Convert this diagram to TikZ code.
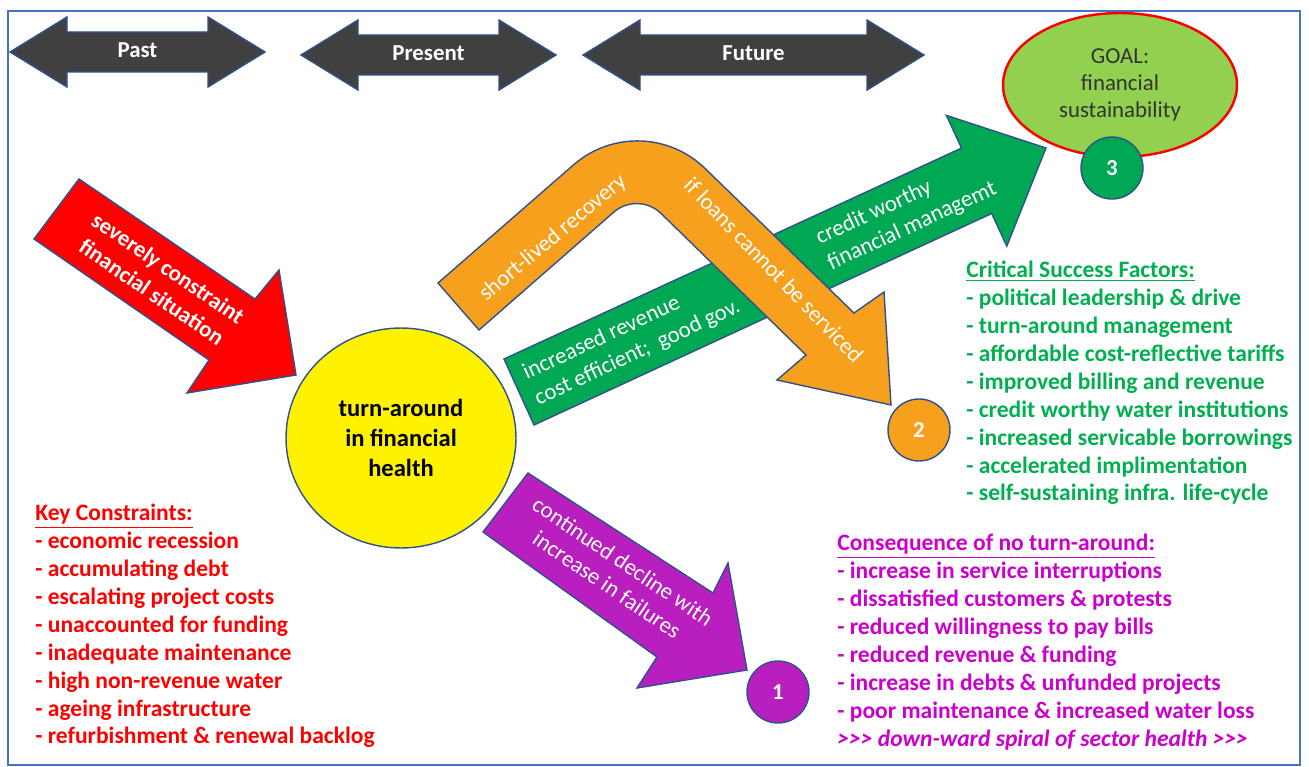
\documentclass[tikz,border=0pt]{standalone}
\usepackage{fontspec}
\setmainfont{Carlito}
\usetikzlibrary{shapes.geometric}

\definecolor{outline}{RGB}{47,82,143}
\definecolor{framecol}{RGB}{68,114,196}
\definecolor{timegray}{RGB}{64,64,64}
\definecolor{redarrow}{RGB}{255,0,0}
\definecolor{orangearrow}{RGB}{247,160,30}
\definecolor{greenarrow}{RGB}{0,168,84}
\definecolor{purplearrow}{RGB}{185,30,190}
\definecolor{goalgreen}{RGB}{146,208,80}
\definecolor{csfgreen}{RGB}{0,176,80}
\definecolor{conspurple}{RGB}{204,0,204}

\tikzset{
  frame/.style={
    draw=framecol,
    line width=1.1pt
  },
  fat/.style={
    draw=outline,
    line width=0.8pt,
    line join=miter
  },
  timebar/.style={
    fat,
    fill=timegray
  },
  timelabel/.style={
    text=white,
    inner sep=0pt,
    font=\bfseries\fontsize{13}{15}\selectfont
  },
  arrowtext/.style={
    text=white,
    inner sep=0pt,
    align=center,
    font=\fontsize{13}{16}\selectfont
  },
  hub/.style={
    ellipse,
    draw=outline,
    line width=0.8pt,
    fill=yellow,
    minimum width=4.6cm,
    minimum height=4.4cm,
    align=center,
    font=\bfseries\fontsize{14}{17}\selectfont
  },
  goal/.style={
    ellipse,
    draw=red,
    line width=1.4pt,
    fill=goalgreen,
    minimum width=4.68cm,
    minimum height=2.88cm,
    align=center,
    text=black!80,
    font=\fontsize{13}{15.3}\selectfont
  },
  num/.style={
    circle,
    draw=outline,
    line width=0.8pt,
    minimum size=1.24cm,
    inner sep=0pt,
    text=white,
    font=\bfseries\fontsize{13}{15}\selectfont
  },
  listtext/.style={
    align=left,
    anchor=north west,
    inner sep=0pt,
    font=\bfseries\fontsize{13.4}{15.87}\selectfont
  }
}

\begin{document}
\begin{tikzpicture}[x=0.02cm, y=-0.02cm]
  \useasboundingbox (0,0) rectangle (1309,767);
  \fill[white] (0,0) rectangle (1309,767);
  \draw[frame] (8,11) rectangle (1300,765);

  % time line
  \foreach \nm/\xa/\xb/\yc/\txt in {past/10/265/52/Past, present/301/556/55/Present, future/583/924/55/Future}{
    \draw[timebar] (\xa,\yc) -- ++(57,-35) -- ++(0,15) -- (\xb-57,\yc-20) -- ++(0,-15) -- (\xb,\yc)
      -- ++(-57,35) -- ++(0,-15) -- (\xa+57,\yc+20) -- ++(0,15) -- cycle;
    \node[timelabel] (\nm) at ({(\xa+\xb)/2},\yc-2) {\txt};
  }

  % goal
  \node[goal] (goal) at (1120,85) {GOAL:\\financial\\sustainability};

  % fat arrows
  \draw[fat, fill=redarrow] (79,179) -- (255,299) -- (279,270) -- (296,375) -- (187,393) -- (209,360) -- (34,239) -- cycle;
  \node[arrowtext, font=\bfseries\fontsize{13}{16.5}\selectfont, rotate=-34.3] (constrainttxt) at (160,280) {severely constraint\\financial situation};

  \draw[fat, fill=greenarrow] (504,359) -- (961.5,148.1) -- (946.4,115.4) -- (1046,148) -- (1006.8,246.2) -- (991.7,213.5) -- (534,425) -- cycle;
  \node[arrowtext, align=left, anchor=west, rotate=24.8] (revenuetxt) at (530,387) {increased revenue\\cost efficient;~ good gov.};
  \node[arrowtext, align=left, anchor=west, rotate=24.8] (credittxt) at (823,252) {credit worthy\\financial managemt};

  \draw[fat, fill=orangearrow] (438,283) -- (573.6,164.8) .. controls (611.7,131.6) and (668.9,133.2) .. (705.1,168.5)
    -- (854,313) -- (884,292) -- (891,405) -- (777,380) -- (806,355)
    -- (661.1,213.5) .. controls (648.1,200.8) and (627.4,200.2) .. (613.7,212.2) -- (479,330) -- cycle;
  \node[arrowtext, rotate=40] (recoverytxt) at (553,238) {short-lived recovery};
  \node[arrowtext, rotate=-46] (loanstxt) at (774,270) {if loans cannot be serviced};

  \draw[fat, fill=purplearrow] (528,473) -- (713,593) -- (728,563) -- (747,670) -- (637,688) -- (657,657) -- (483,532) -- cycle;
  \node[arrowtext, rotate=-34] (declinetxt) at (615,573) {continued decline with\\increase in failures};

  % circles
  \node[hub] (hub) at (401,438) {turn-around\\in financial\\health};
  \node[num, fill=greenarrow] (three) at (1112,168) {3};
  \node[num, fill=orangearrow] (two) at (919,430) {2};
  \node[num, fill=purplearrow] (one) at (778,692) {1};

  % lists
  \node[listtext, text=redarrow] (constraints) at (35,504) {\underline{Key Constraints:}\\- economic recession\\- accumulating debt\\- escalating project costs\\- unaccounted for funding\\- inadequate maintenance\\- high non-revenue water\\- ageing infrastructure\\- refurbishment \& renewal backlog};
  \node[listtext, text=csfgreen] (factors) at (966,261) {\underline{Critical Success Factors:}\\- political leadership \& drive\\- turn-around management\\- affordable cost-reflective tariffs\\- improved billing and revenue\\- credit worthy water institutions\\- increased servicable borrowings\\- accelerated implimentation\\- self-sustaining infra. life-cycle};
  \node[listtext, text=conspurple] (consequence) at (837,534) {\underline{Consequence of no turn-around:}\\- increase in service interruptions\\- dissatisfied customers \& protests\\- reduced willingness to pay bills\\- reduced revenue \& funding\\- increase in debts \& unfunded projects\\- poor maintenance \& increased water loss\\\textit{{>}{>}{>} down-ward spiral of sector health {>}{>}{>}}};
\end{tikzpicture}
\end{document}
